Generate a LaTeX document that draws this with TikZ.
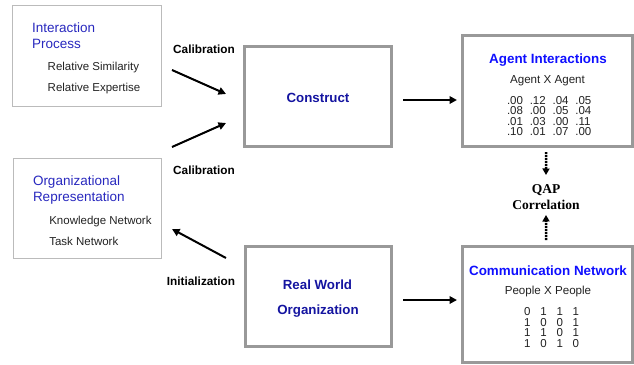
\documentclass[tikz,border=0pt]{standalone}
\usepackage{fontspec}
\setmainfont{Liberation Serif}
\newfontfamily\arial{Liberation Sans}
\usetikzlibrary{arrows.meta,calc}
\definecolor{boxthin}{HTML}{BBBBBB}
\definecolor{boxthick}{HTML}{999999}
\definecolor{midblue}{RGB}{40,40,190}
\definecolor{navyblue}{RGB}{20,20,160}
\definecolor{brightblue}{RGB}{15,15,255}
\definecolor{subtext}{HTML}{222222}
\newcommand\mcellA[1]{\makebox[22.8pt][l]{#1}}
\newcommand\mcellB[1]{\makebox[16.2pt]{#1}}
\begin{document}
\begin{tikzpicture}[x=1pt,y=-1pt,
  thinbox/.style={draw=boxthin,line width=1pt,inner sep=0pt,outer sep=0pt},
  thickbox/.style={draw=boxthick,line width=3pt,inner sep=0pt,outer sep=0pt},
  txt/.style={inner sep=0pt,outer sep=0pt,anchor=base west},
  ctxt/.style={inner sep=0pt,outer sep=0pt,anchor=base},
  title/.style={txt,text=midblue,font=\arial\fontsize{13.5}{16}\selectfont},
  item/.style={txt,text=subtext,font=\arial\fontsize{11.5}{14}\selectfont},
  lbl/.style={ctxt,font=\arial\bfseries\fontsize{11.8}{14}\selectfont},
  navytitle/.style={ctxt,text=navyblue,font=\arial\bfseries\fontsize{13.3}{16}\selectfont},
  bluetitle/.style={ctxt,text=brightblue,font=\arial\bfseries\fontsize{13.4}{16}\selectfont},
  sub/.style={ctxt,text=subtext,font=\arial\fontsize{11.6}{14}\selectfont},
  mrow/.style={txt,text=subtext,font=\arial\fontsize{11.5}{11}\selectfont},
  qaptxt/.style={ctxt,font=\bfseries\fontsize{13.5}{16}\selectfont},
  arr/.style={line width=2pt,-{Triangle[length=7.5pt,width=7.5pt]}},
  dotarr/.style={line width=2.5pt,dash pattern=on 2pt off 1pt,-{Triangle[length=6.5pt,width=7pt]}},
]
\useasboundingbox (0,0) rectangle (634,364);

% boxes
\node[thinbox,minimum width=148.5pt,minimum height=100.8pt] (ip) at (86.75,55.9) {};
\node[thinbox,minimum width=148pt,minimum height=100pt] (orgrep) at (87,208.3) {};
\node[thickbox,minimum width=146.2pt,minimum height=99.4pt] (construct) at (317.9,96.5) {};
\node[thickbox,minimum width=170.5pt,minimum height=110.7pt] (agent) at (547.55,90.85) {};
\node[thickbox,minimum width=146pt,minimum height=99.4pt] (rwo) at (318,296.5) {};
\node[thickbox,minimum width=170.5pt,minimum height=116pt] (comm) at (547.55,304.8) {};

% Interaction process
\node[title] (ip1) at (32,32.3) {Interaction};
\node[title] (ip2) at (32,48.3) {Process};
\node[item] (ip3) at (47.7,70.7) {Relative Similarity};
\node[item] (ip4) at (47.7,91.7) {Relative Expertise};

% Organizational representation
\node[title] (or1) at (33,185) {Organizational};
\node[title] (or2) at (33,201) {Representation};
\node[item] (or3) at (49.3,224) {Knowledge Network};
\node[item] (or4) at (49.3,245) {Task Network};

% Construct / RWO
\node[navytitle] (ct) at (318,102.3) {Construct};
\node[navytitle] (rw1) at (317.5,289.3) {Real World};
\node[navytitle] (rw2) at (318,314.3) {Organization};

% Agent interactions
\node[bluetitle] (ag1) at (548,63.3) {Agent Interactions};
\node[sub] (ag2) at (547.5,83.3) {Agent X Agent};
\node[mrow] (am1) at (507,104) {\mcellA{.00}\mcellA{.12}\mcellA{.04}.05};
\node[mrow] (am2) at (507,114.5) {\mcellA{.08}\mcellA{.00}\mcellA{.05}.04};
\node[mrow] (am3) at (507,125) {\mcellA{.01}\mcellA{.03}\mcellA{.00}.11};
\node[mrow] (am4) at (507,135.5) {\mcellA{.10}\mcellA{.01}\mcellA{.07}.00};

% Communication network
\node[bluetitle] (cn1) at (548,275) {Communication Network};
\node[sub] (cn2) at (548,294) {People X People};
\node[mrow] (cm1) at (519.2,315.7) {\mcellB{0}\mcellB{1}\mcellB{1}\mcellB{1}};
\node[mrow] (cm2) at (519.2,326.3) {\mcellB{1}\mcellB{0}\mcellB{0}\mcellB{1}};
\node[mrow] (cm3) at (519.2,336.9) {\mcellB{1}\mcellB{1}\mcellB{0}\mcellB{1}};
\node[mrow] (cm4) at (519.2,347.4) {\mcellB{1}\mcellB{0}\mcellB{1}\mcellB{0}};

% labels
\node[lbl] (cal1) at (204,53.3) {Calibration};
\node[lbl] (cal2) at (204,174.5) {Calibration};
\node[lbl] (init) at (201,285.3) {Initialization};
\node[qaptxt] (qap1) at (546,193.3) {QAP};
\node[qaptxt] (qap2) at (546,209) {Correlation};

% connectors
\coordinate (row1) at (0,100);
\coordinate (row2) at (0,300);
\draw[arr] ($(ip.east)+(11,14.1)$) -- ($(construct.west)+(-18.8,-2.5)$);
\draw[arr] ($(ip.east)+(11,91.1)$) -- ($(construct.west)+(-18.8,26.5)$);
\draw[arr] ($(rwo.west)+(-19,-38.5)$) -- ($(orgrep.east)+(11,20.7)$);
\draw[arr,shorten <=12pt,shorten >=5.3pt] (construct.east|-row1) -- (agent.west|-row1);
\draw[arr,shorten <=12pt,shorten >=5.3pt] (rwo.east|-row2) -- (comm.west|-row2);
\draw[dotarr] ($(agent.south)+(-1.5,6)$) -- ($(qap1.base)+(0,-18.3)$);
\draw[dotarr] ($(comm.north)+(-1.5,-6.8)$) -- ($(qap2.base)+(0,6)$);
\end{tikzpicture}
\end{document}
